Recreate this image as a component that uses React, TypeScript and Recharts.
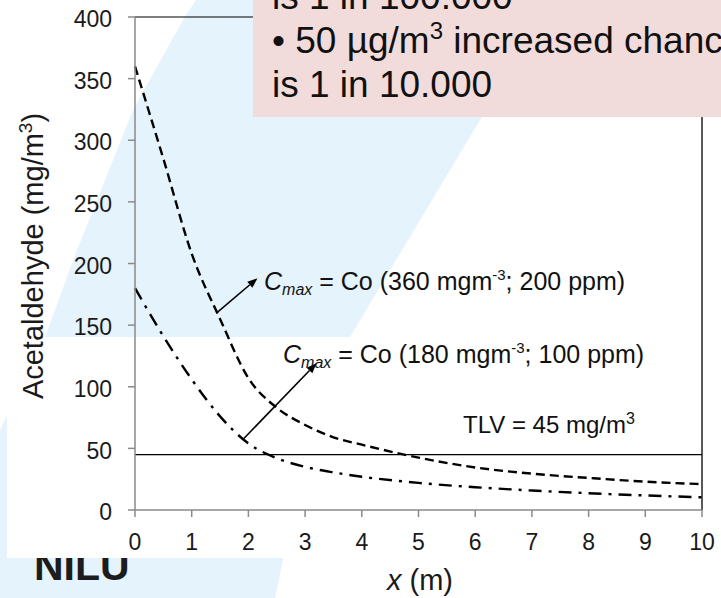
import { LineChart, Line, XAxis, YAxis, ReferenceLine } from 'recharts';

// distance from source (m) and concentrations (mg/m3)
const distance = [0, 0.5, 1, 1.5, 2, 2.5, 3, 3.5, 4, 5, 6, 7, 8, 9, 10];
const conc360 = [360, 285, 208, 155, 107, 83, 69, 59, 53, 42.5, 34.5, 29.5, 26, 23, 21];
const conc180 = [180, 141, 106, 76, 54, 42, 35, 30.5, 27, 22, 18.5, 15.8, 13.6, 11.8, 10.3];

const xTicks = [0, 1, 2, 3, 4, 5, 6, 7, 8, 9, 10];
const yTicks = [0, 50, 100, 150, 200, 250, 300, 350, 400];
const tlv = 45;

// annotation arrows, [from, to] in data units
const arrow360 = [{ x: 1.44, y: 160 }, { x: 2.16, y: 188 }];
const arrow180 = [{ x: 1.92, y: 58 }, { x: 3.2, y: 119 }];

const data = distance.map((x, i) => ({ x, c360: conc360[i], c180: conc180[i] }));

const FONT = '"Liberation Sans", Arial, sans-serif';
const AXIS_GREY = '#8a8a8a';

const Arrow = (props: any) => {
  const { x1, y1, x2, y2 } = props;
  const a = Math.atan2(y2 - y1, x2 - x1);
  const len = 10;
  const w = 4;
  const bx = x2 - len * Math.cos(a);
  const by = y2 - len * Math.sin(a);
  const pts = `${x2},${y2} ${bx + w * Math.sin(a)},${by - w * Math.cos(a)} ${bx - w * Math.sin(a)},${by + w * Math.cos(a)}`;
  return (
    <g>
      <line x1={x1} y1={y1} x2={bx} y2={by} stroke="#000" strokeWidth={1.6} />
      <polygon points={pts} fill="#000" />
    </g>
  );
};

const CmaxLabel = ({ x, y, rest }: { x: number; y: number; rest: string }) => (
  <text x={x} y={y} fontSize={25} fill="#111" fontFamily={FONT}>
    <tspan fontStyle="italic">C</tspan>
    <tspan fontStyle="italic" fontSize={16} dy={5}>max</tspan>
    <tspan dy={-5}> = Co ({rest} mgm</tspan>
    <tspan fontSize={15} dy={-10}>-3</tspan>
    <tspan dy={10}>; {rest === '360' ? '200' : '100'} ppm)</tspan>
  </text>
);

export default function App() {
  return (
    <div style={{ position: 'absolute', left: 0, top: 0, width: 721, height: 598, background: '#fff', overflow: 'hidden' }}>
      {/* slide background swoosh */}
      <svg width={721} height={598} style={{ position: 'absolute', left: 0, top: 0 }}>
        <polygon
          points="196,0 552,0 480,120 350,337 300,480 283,560 275,598 0,598 0,430 45,337 77,250 133,110 183,20"
          fill="#E5F3FC"
        />
      </svg>
      <div
        style={{
          position: 'absolute', left: 34, top: 546, fontFamily: FONT, fontWeight: 900,
          fontSize: 41, lineHeight: '41px', color: '#1c1c1c', letterSpacing: 0,
        }}
      >
        NILU
      </div>
      <div style={{ position: 'absolute', left: 7, top: 337, width: 714, height: 221, background: '#fff' }} />

      <div style={{ position: 'absolute', left: 0, top: 0 }}>
        <LineChart width={721} height={598} data={data} margin={{ top: 17, right: 19, bottom: 28, left: 0 }}>
          <XAxis
            dataKey="x"
            type="number"
            domain={[0, 10]}
            ticks={xTicks}
            interval={0}
            height={60}
            tickSize={7}
            tickMargin={17}
            axisLine={{ stroke: AXIS_GREY, strokeWidth: 1.5 }}
            tickLine={{ stroke: AXIS_GREY, strokeWidth: 1.5 }}
            tick={{ fontSize: 23, fill: '#1a1a1a', fontFamily: FONT }}
          />
          <YAxis
            type="number"
            domain={[0, 400]}
            ticks={yTicks}
            interval={0}
            width={135}
            tickSize={7}
            tickMargin={16}
            axisLine={{ stroke: AXIS_GREY, strokeWidth: 1.5 }}
            tickLine={{ stroke: AXIS_GREY, strokeWidth: 1.5 }}
            tick={{ fontSize: 23, fill: '#1a1a1a', fontFamily: FONT, dy: 2 }}
          />
          <ReferenceLine y={400} stroke="#000" strokeWidth={1.2} />
          <ReferenceLine x={10} stroke="#000" strokeWidth={1.3} />
          <ReferenceLine y={tlv} stroke="#000" strokeWidth={1.3} />
          <Line
            type="monotone"
            dataKey="c360"
            stroke="#000"
            strokeWidth={2.4}
            strokeDasharray="9 5"
            dot={false}
            activeDot={false}
            isAnimationActive={false}
          />
          <Line
            type="monotone"
            dataKey="c180"
            stroke="#000"
            strokeWidth={2.4}
            strokeDasharray="13 7 3 7"
            dot={false}
            activeDot={false}
            isAnimationActive={false}
          />
          <ReferenceLine segment={arrow360} shape={Arrow} />
          <ReferenceLine segment={arrow180} shape={Arrow} />
        </LineChart>
      </div>

      {/* titles and annotations */}
      <svg width={721} height={598} style={{ position: 'absolute', left: 0, top: 0, pointerEvents: 'none' }}>
        <text
          x={0}
          y={0}
          transform="translate(43 256) rotate(-90)"
          textAnchor="middle"
          fontSize={29}
          fill="#1a1a1a"
          fontFamily={FONT}
        >
          Acetaldehyde (mg/m<tspan fontSize={19} dy={-11}>3</tspan><tspan dy={11}>)</tspan>
        </text>
        <text x={420} y={590} textAnchor="middle" fontSize={29} fill="#1a1a1a" fontFamily={FONT}>
          <tspan fontStyle="italic">x</tspan> (m)
        </text>
        <CmaxLabel x={264} y={290} rest="360" />
        <CmaxLabel x={283} y={363} rest="180" />
        <text x={463} y={433} fontSize={24} fill="#111" fontFamily={FONT}>
          TLV = 45 mg/m<tspan fontSize={16} dy={-9}>3</tspan>
        </text>
      </svg>

      {/* overlapping slide text box */}
      <svg width={468} height={117} style={{ position: 'absolute', left: 253, top: 0 }}>
        <rect x={0} y={0} width={468} height={117} fill="#F2DCDB" />
        <g fontSize={37} fill="#111" fontFamily={FONT}>
          <text x={19} y={9}>is 1 in 100.000</text>
          <text x={19} y={53}>
            • 50 µg/m<tspan fontSize={24} dy={-14}>3</tspan><tspan dy={14}> increased chance</tspan>
          </text>
          <text x={19} y={97}>is 1 in 10.000</text>
        </g>
      </svg>
    </div>
  );
}
